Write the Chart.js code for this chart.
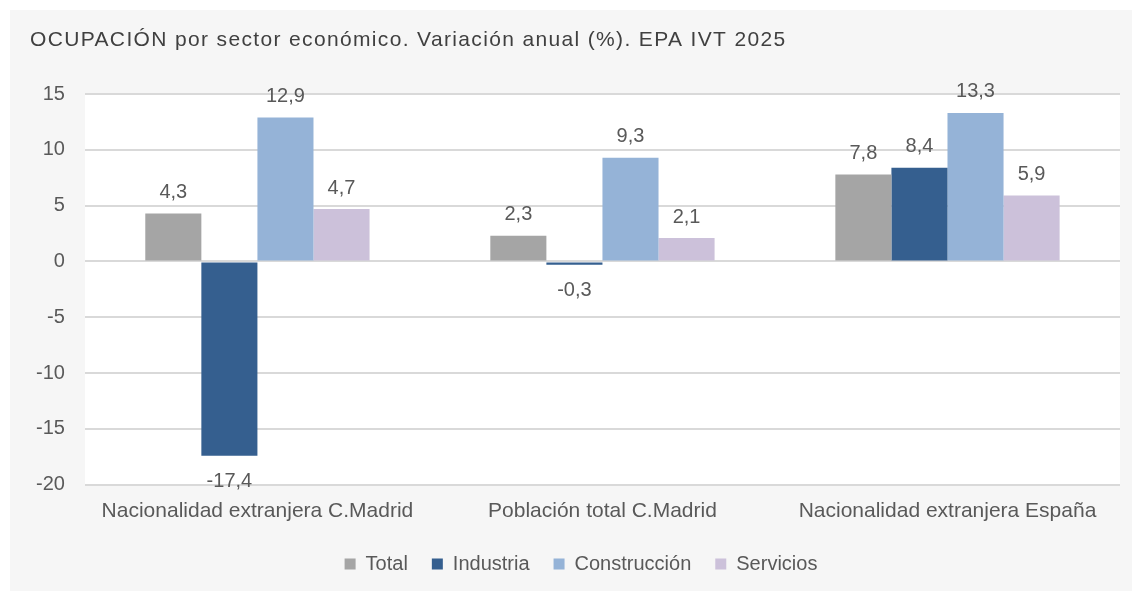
<!DOCTYPE html>
<html>
<head>
<meta charset="utf-8">
<script src="https://cdn.jsdelivr.net/npm/chart.js@4.4.1/dist/chart.umd.min.js"></script>
<style>
  html, body { margin: 0; padding: 0; background: #ffffff; }
  #wrap { width: 1132px; height: 591px; }
</style>
</head>
<body>
<div id="wrap"><canvas id="myChart" width="1132" height="591"></canvas></div>
<script>
// datos
const categorias = ["Nacionalidad extranjera C.Madrid", "Población total C.Madrid", "Nacionalidad extranjera España"];
const total = [4.3, 2.3, 7.8];
const industria = [-17.4, -0.3, 8.4];
const construccion = [12.9, 9.3, 13.3];
const servicios = [4.7, 2.1, 5.9];
const tituloTexto = "OCUPACIÓN por sector económico. Variación anual (%). EPA IVT 2025";

(() => {
    const ctx = document.getElementById('myChart').getContext('2d');
    const FUENTE = "'Liberation Sans', Arial, sans-serif";
    const GRIS_TEXTO = '#595959';

    // fondo gris, area blanca y titulo
    const fondoPlugin = {
        id: 'fondo',
        afterLayout: (chart) => {
            // la leyenda del original esta un poco a la derecha
            if (chart.legend) {
                chart.legend.left += 13;
                chart.legend.right += 13;
            }
        },
        beforeDraw: (chart) => {
            const c = chart.ctx;
            const a = chart.chartArea;
            c.save();
            c.fillStyle = '#ffffff';
            c.fillRect(0, 0, chart.width, chart.height);
            c.fillStyle = '#f6f6f6';
            c.fillRect(10, 10, chart.width - 10, chart.height - 10);
            c.fillStyle = '#ffffff';
            c.fillRect(a.left, a.top, a.right - a.left, a.bottom - a.top);
            c.fillStyle = '#404040';
            c.font = '21px ' + FUENTE;
            c.letterSpacing = '1.35px';
            c.textBaseline = 'alphabetic';
            c.textAlign = 'left';
            c.fillText(tituloTexto, 30, 46);
            c.restore();
        }
    };

    // etiquetas de valor encima / debajo de cada barra
    const etiquetasPlugin = {
        id: 'etiquetas',
        afterDatasetsDraw: (chart) => {
            const c = chart.ctx;
            c.save();
            c.font = '20px ' + FUENTE;
            c.fillStyle = GRIS_TEXTO;
            c.textAlign = 'center';
            c.textBaseline = 'middle';
            chart.data.datasets.forEach((ds, i) => {
                const meta = chart.getDatasetMeta(i);
                meta.data.forEach((bar, j) => {
                    const v = ds.data[j];
                    const txt = v.toFixed(1).replace('.', ',');
                    if (v >= 0) {
                        c.fillText(txt, bar.x, bar.y - 21);
                    } else {
                        c.fillText(txt, bar.x, bar.y + 26);
                    }
                });
            });
            c.restore();
        }
    };

    const grafica = new Chart(ctx, {
        type: 'bar',
        data: {
            labels: categorias,
            datasets: [
                { label: 'Total', data: total, backgroundColor: '#a5a5a5' },
                { label: 'Industria', data: industria, backgroundColor: '#355f8f' },
                { label: 'Construcción', data: construccion, backgroundColor: '#95b3d7' },
                { label: 'Servicios', data: servicios, backgroundColor: '#ccc1da' }
            ]
        },
        options: {
            responsive: false,
            animation: false,
            devicePixelRatio: 1,
            categoryPercentage: 0.65,
            barPercentage: 1.0,
            layout: {
                padding: { left: 16, right: 12, top: 94, bottom: 7 }
            },
            plugins: {
                title: { display: false },
                tooltip: { enabled: false },
                legend: {
                    position: 'bottom',
                    labels: {
                        boxWidth: 11,
                        boxHeight: 11,
                        padding: 24,
                        color: GRIS_TEXTO,
                        font: { family: FUENTE, size: 20 }
                    }
                }
            },
            scales: {
                x: {
                    grid: { display: false },
                    border: { display: false },
                    ticks: {
                        color: GRIS_TEXTO,
                        font: { family: FUENTE, size: 21 },
                        padding: 6,
                        maxRotation: 0
                    }
                },
                y: {
                    min: -20,
                    max: 15,
                    ticks: {
                        stepSize: 5,
                        color: GRIS_TEXTO,
                        font: { family: FUENTE, size: 20 },
                        padding: 20
                    },
                    grid: {
                        color: '#d9d9d9',
                        lineWidth: 2,
                        drawTicks: false
                    },
                    border: { display: false }
                }
            }
        },
        plugins: [fondoPlugin, etiquetasPlugin]
    });
})();
</script>
</body>
</html>
